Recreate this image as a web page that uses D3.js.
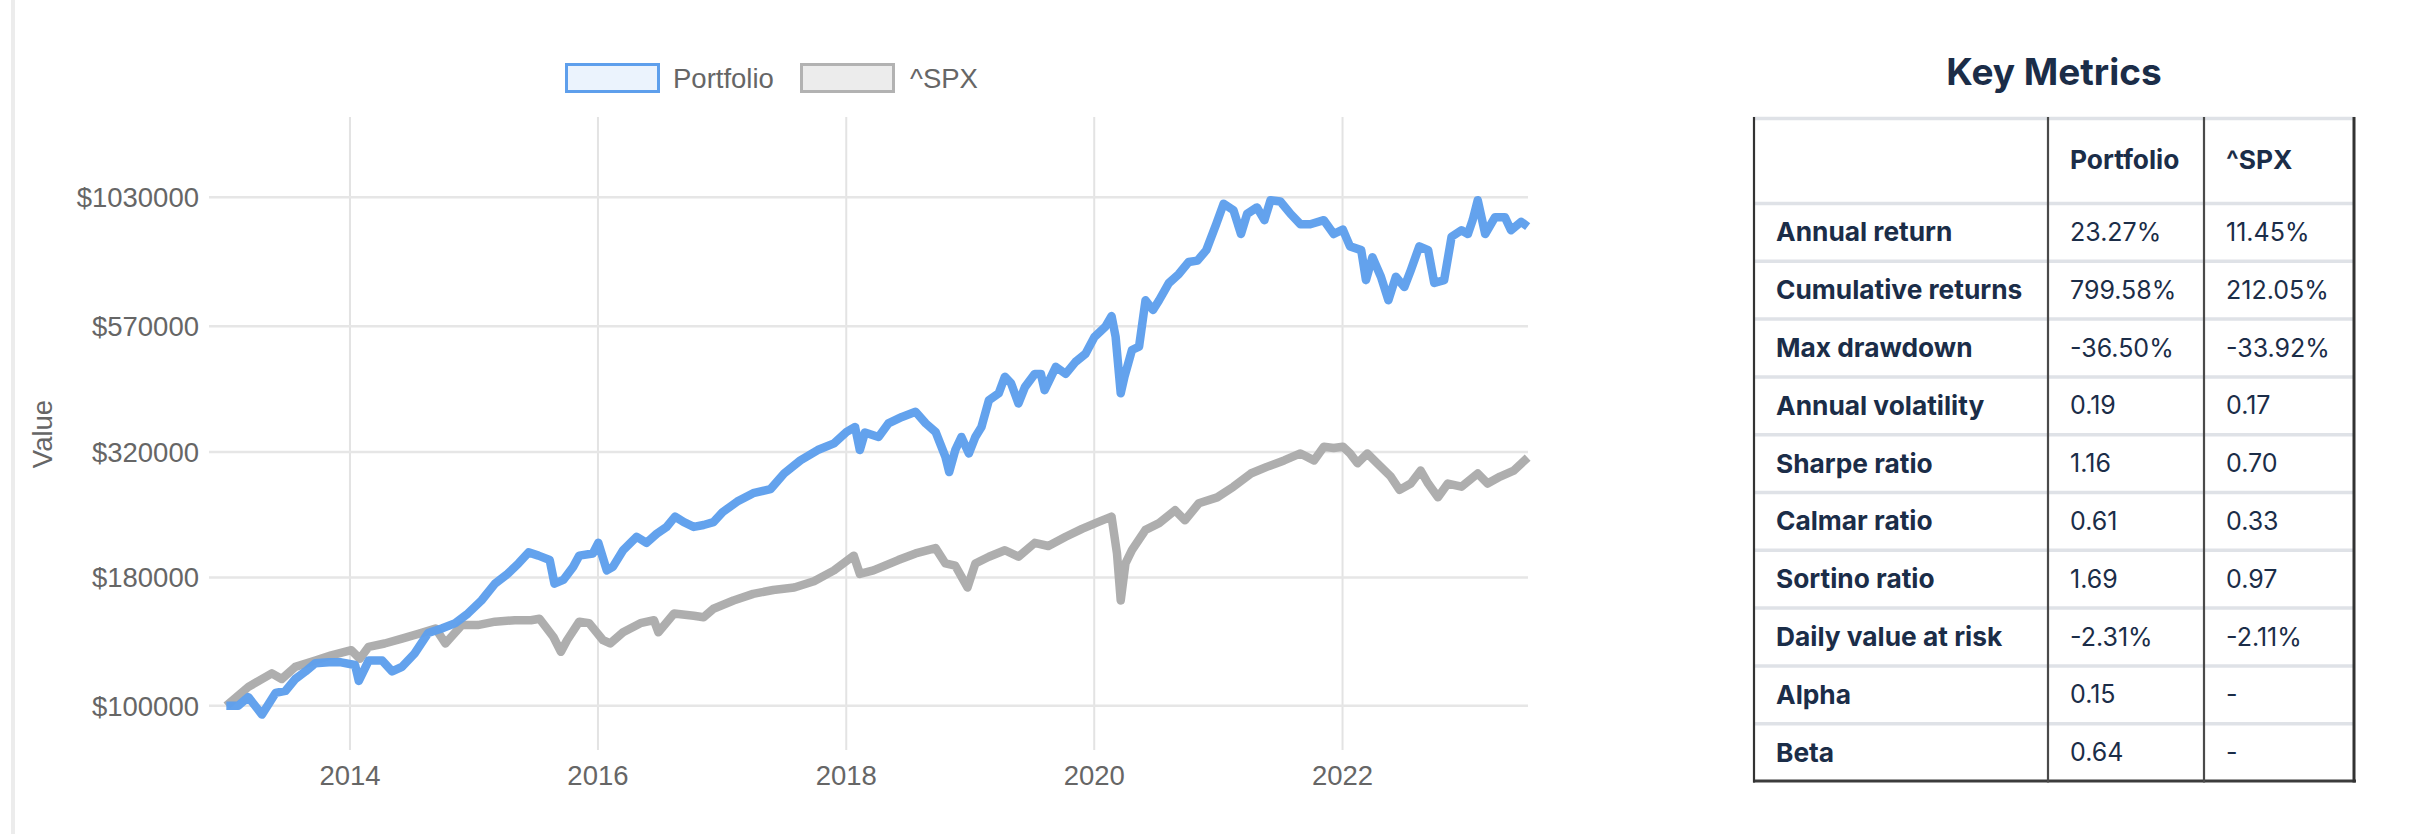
<!DOCTYPE html>
<html><head><meta charset="utf-8">
<script src="https://cdn.jsdelivr.net/npm/d3@7"></script>
<style>body{margin:0;background:#fff}svg{display:block}</style>
</head><body><svg id="c" width="2416" height="834"></svg>
<script>
const portfolioDates=["2013-01-02","2013-02-06","2013-03-08","2013-04-17","2013-05-27","2013-06-25","2013-07-24","2013-08-23","2013-09-21","2013-10-31","2013-12-06","2014-01-16","2014-01-27","2014-02-25","2014-04-06","2014-05-05","2014-06-03","2014-07-10","2014-08-19","2014-09-28","2014-11-07","2014-12-14","2015-01-23","2015-03-04","2015-04-10","2015-05-12","2015-06-11","2015-07-10","2015-08-12","2015-08-26","2015-09-21","2015-10-20","2015-11-07","2015-12-17","2016-01-02","2016-01-27","2016-02-14","2016-03-15","2016-04-24","2016-05-23","2016-06-22","2016-07-21","2016-08-15","2016-09-10","2016-10-09","2016-11-07","2016-12-06","2017-01-02","2017-02-14","2017-04-02","2017-05-23","2017-07-02","2017-08-19","2017-10-09","2017-11-26","2018-01-02","2018-01-27","2018-02-10","2018-02-25","2018-04-06","2018-05-05","2018-06-14","2018-07-24","2018-08-23","2018-09-21","2018-10-20","2018-10-31","2018-11-18","2018-12-06","2018-12-28","2019-01-16","2019-02-03","2019-02-25","2019-03-26","2019-04-13","2019-05-01","2019-05-23","2019-06-11","2019-07-10","2019-07-28","2019-08-08","2019-09-10","2019-10-09","2019-11-07","2019-12-06","2020-01-02","2020-02-03","2020-02-21","2020-03-04","2020-03-19","2020-03-30","2020-04-21","2020-05-12","2020-05-31","2020-06-22","2020-07-10","2020-08-08","2020-09-06","2020-10-05","2020-10-31","2020-11-26","2020-12-25","2021-01-16","2021-02-14","2021-03-08","2021-03-26","2021-04-24","2021-05-16","2021-06-03","2021-07-02","2021-08-01","2021-08-30","2021-09-28","2021-11-07","2021-12-06","2022-01-02","2022-01-23","2022-02-25","2022-03-11","2022-03-30","2022-04-24","2022-05-16","2022-06-07","2022-07-02","2022-07-21","2022-08-15","2022-09-10","2022-09-28","2022-10-27","2022-11-18","2022-12-17","2023-01-05","2023-01-19","2023-02-03","2023-02-25","2023-03-26","2023-04-24","2023-05-12","2023-06-11","2023-06-30"];
const portfolioValues=[100000,100000,104000,96000,106000,107000,113000,117000,121500,122000,122000,120500,112000,123000,123000,117000,119500,127000,139500,142500,146000,152600,162000,175000,183000,192000,202000,199000,195000,175000,178000,189000,199000,201000,211000,186000,189000,204000,217000,211000,220000,227000,238000,232000,227000,229000,232000,243000,255000,265000,270000,290000,308000,323000,333000,351000,359000,323000,350000,343000,365000,376000,385000,365000,351000,313000,292000,323000,343000,318000,343000,359000,406000,419000,452000,439000,400000,431000,458000,458000,425000,473000,458000,484000,502000,543000,569000,597000,543000,419000,452000,511000,519000,642000,614000,642000,695000,724000,765000,770000,808000,910000,1000000,970000,870000,954000,983000,927000,1016000,1010000,954000,910000,910000,927000,870000,888000,822000,808000,704000,782000,715000,642000,715000,682000,737000,822000,808000,695000,704000,859000,885000,870000,927000,1016000,870000,940000,940000,885000,920000,899580];
const spxDates=["2013-01-02","2013-03-08","2013-05-16","2013-06-14","2013-07-24","2013-09-21","2013-11-07","2014-01-05","2014-01-30","2014-02-25","2014-04-13","2014-06-03","2014-07-21","2014-09-10","2014-10-09","2014-11-26","2015-01-12","2015-03-04","2015-05-01","2015-06-18","2015-07-13","2015-08-23","2015-09-14","2015-10-02","2015-11-07","2015-12-06","2016-01-16","2016-02-06","2016-03-15","2016-05-05","2016-06-14","2016-06-27","2016-08-12","2016-10-09","2016-11-07","2016-12-06","2017-02-03","2017-04-02","2017-05-31","2017-08-01","2017-09-28","2017-11-26","2018-01-23","2018-02-10","2018-03-22","2018-06-03","2018-07-24","2018-09-21","2018-10-20","2018-11-18","2018-12-24","2019-01-16","2019-02-25","2019-04-13","2019-05-23","2019-07-10","2019-08-19","2019-10-09","2019-11-26","2020-01-12","2020-02-21","2020-03-08","2020-03-19","2020-04-02","2020-04-21","2020-05-31","2020-07-10","2020-08-26","2020-09-24","2020-11-04","2020-12-28","2021-02-14","2021-04-06","2021-05-23","2021-07-13","2021-08-30","2021-10-09","2021-11-07","2021-12-06","2022-01-02","2022-01-23","2022-02-14","2022-03-15","2022-04-13","2022-05-23","2022-06-18","2022-07-21","2022-08-19","2022-09-10","2022-10-09","2022-11-07","2022-12-17","2023-02-03","2023-03-04","2023-04-10","2023-05-20","2023-06-30"];
const spxValues=[100000,109000,116000,113000,119500,123000,126000,129000,124000,131000,133000,136000,139000,142500,133000,144700,144700,147000,148000,148000,149000,137000,128000,135000,147000,146000,135000,133000,140000,146000,148000,140000,152600,151000,150000,156000,162000,167000,170000,172000,177000,186000,199000,183000,186000,195000,201000,206000,192000,190000,172000,192000,198000,204000,198000,211000,208000,217000,225000,232000,238000,201000,162000,192000,204000,224000,231000,245000,234000,253000,260000,273000,290000,299000,308000,318000,308000,328000,326000,328000,318000,304000,318000,304000,286000,269000,277000,294000,277000,260000,277000,273000,290000,277000,286000,294000,312050];
const seriesNames=["Portfolio","^SPX"];
const yTickValues=[100000,180000,320000,570000,1030000];
const xTickDates=["2014-01-01","2016-01-01","2018-01-01","2020-01-01","2022-01-01"];
const xTickLabels=["2014","2016","2018","2020","2022"];
const yAxisTitle="Value";
const tableTitle="Key Metrics";
const tableHeaders=["","Portfolio","^SPX"];
const metricNames=["Annual return","Cumulative returns","Max drawdown","Annual volatility","Sharpe ratio","Calmar ratio","Sortino ratio","Daily value at risk","Alpha","Beta"];
const portfolioMetrics=["23.27%","799.58%","-36.50%","0.19","1.16","0.61","1.69","-2.31%","0.15","0.64"];
const spxMetrics=["11.45%","212.05%","-33.92%","0.17","0.70","0.33","0.97","-2.11%","-","-"];

const svg=d3.select("#c");
const parse=d3.utcParse("%Y-%m-%d");
const chartFont="'Liberation Sans', Arial, Helvetica, sans-serif";
const tableFont="Inter, 'Noto Sans', sans-serif";
const axisColor="#666";

// page border line
svg.append("rect").attr("x",11).attr("y",0).attr("width",4).attr("height",834).attr("fill","#ececec");

const x=d3.scaleUtc().domain([new Date(Date.UTC(2012,10,12)),new Date(Date.UTC(2023,6,1))]).range([209,1528]);
const y=d3.scaleLog().domain([81600,1488000]).range([750,117]);

const g=svg.append("g");
g.selectAll(".vg").data(xTickDates).join("line")
 .attr("x1",d=>x(parse(d))).attr("x2",d=>x(parse(d))).attr("y1",117).attr("y2",750)
 .attr("stroke","#e3e3e3").attr("stroke-width",2);
g.selectAll(".hg").data(yTickValues).join("line")
 .attr("x1",209).attr("x2",1528).attr("y1",d=>y(d)).attr("y2",d=>y(d))
 .attr("stroke","#e6e6e6").attr("stroke-width",2.5);

g.selectAll(".yl").data(yTickValues).join("text")
 .attr("x",199).attr("y",d=>y(d)).attr("dy","0.36em").attr("text-anchor","end")
 .attr("font-family",chartFont).attr("font-size",27.5).attr("fill",axisColor)
 .text(d=>"$"+d);
g.selectAll(".xl").data(xTickDates).join("text")
 .attr("x",d=>x(parse(d))).attr("y",785).attr("text-anchor","middle")
 .attr("font-family",chartFont).attr("font-size",27.5).attr("fill",axisColor)
 .text((d,i)=>xTickLabels[i]);
svg.append("text").attr("transform","translate(52,434) rotate(-90)").attr("text-anchor","middle")
 .attr("font-family",chartFont).attr("font-size",27.5).attr("fill",axisColor).text(yAxisTitle);

const line=d3.line().x(d=>x(d[0])).y(d=>y(d[1])).curve(d3.curveLinear);
const spxData=spxDates.map((d,i)=>[parse(d),spxValues[i]]);
const portData=portfolioDates.map((d,i)=>[parse(d),portfolioValues[i]]);
g.append("path").datum(spxData).attr("d",line).attr("fill","none")
 .attr("stroke","#aaaaaa").attr("stroke-opacity",0.95).attr("stroke-width",8.5).attr("stroke-linejoin","round");
g.append("path").datum(portData).attr("d",line).attr("fill","none")
 .attr("stroke","#5e9fec").attr("stroke-opacity",0.97).attr("stroke-width",8.5).attr("stroke-linejoin","round");

const legend=[{name:seriesNames[0],bx:565,tx:673,stroke:"#5e9fec",fill:"#ebf3fd"},{name:seriesNames[1],bx:800,tx:910,stroke:"#b2b2b2",fill:"#ececec"}];
legend.forEach(l=>{
 svg.append("rect").attr("x",l.bx+1.5).attr("y",64.5).attr("width",92).attr("height",27)
  .attr("fill",l.fill).attr("stroke",l.stroke).attr("stroke-width",3);
 svg.append("text").attr("x",l.tx).attr("y",88).attr("font-family",chartFont).attr("font-size",27.5)
  .attr("fill",axisColor).text(l.name);
});

const tc="#1b2d48";
const colX=[1754,2048,2204,2354];
const textX=[1776,2070,2226];
const rowTops=[118,203];
const rowH=57.8;
for(let i=1;i<=metricNames.length;i++) rowTops.push(203+i*rowH);
const tb=svg.append("g");
svg.append("text").attr("x",2054).attr("y",85).attr("text-anchor","middle")
 .attr("font-family",tableFont).attr("font-weight",700).attr("font-size",37).attr("fill",tc).text(tableTitle);
tb.selectAll(".hl").data(rowTops.slice(0,-1)).join("line")
 .attr("x1",1753).attr("x2",2355).attr("y1",d=>d+0.5).attr("y2",d=>d+0.5)
 .attr("stroke","#dfe2e7").attr("stroke-width",3.5);
tb.append("line").attr("x1",1753).attr("x2",2356).attr("y1",781).attr("y2",781).attr("stroke","#3c3c3c").attr("stroke-width",3);
tb.selectAll(".vl").data(colX).join("line")
 .attr("x1",d=>d).attr("x2",d=>d).attr("y1",117).attr("y2",782.5)
 .attr("stroke",(d,i)=>i===0||i===3?"#333":"#4a4a4a").attr("stroke-width",(d,i)=>i===3?3:2.2);
tableHeaders.forEach((h,i)=>{
 tb.append("text").attr("x",textX[i]).attr("y",169).attr("font-family",tableFont).attr("font-weight",700)
  .attr("font-size",26.3).attr("fill",tc).text(h);
});
metricNames.forEach((m,i)=>{
 const cy=(rowTops[i+1]+rowTops[i+2])/2;
 tb.append("text").attr("x",textX[0]).attr("y",cy).attr("dy","0.36em").attr("font-family",tableFont)
  .attr("font-weight",700).attr("font-size",26.3).attr("fill",tc).text(m);
 tb.append("text").attr("x",textX[1]).attr("y",cy).attr("dy","0.36em").attr("font-family",tableFont)
  .attr("font-size",25).attr("fill",tc).text(portfolioMetrics[i]);
 tb.append("text").attr("x",textX[2]).attr("y",cy).attr("dy","0.36em").attr("font-family",tableFont)
  .attr("font-size",25).attr("fill",tc).text(spxMetrics[i]);
});
</script></body></html>
